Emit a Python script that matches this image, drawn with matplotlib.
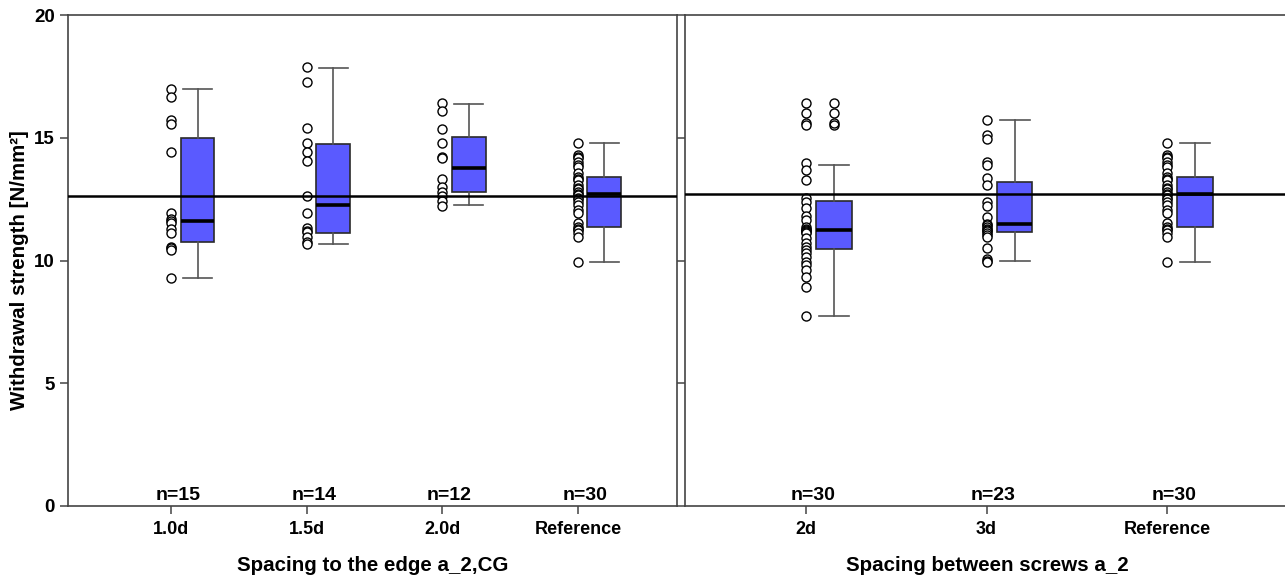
import matplotlib
matplotlib.use("Agg")
import matplotlib.pyplot as plt
import matplotlib.transforms as mtransforms
import numpy as np

plt.rcParams['font.family'] = ['Liberation Sans', 'DejaVu Sans']
plt.rcParams['font.weight'] = 'bold'

# --- edge spacing groups ---
edge_labels = ["1.0d", "1.5d", "2.0d", "Reference"]
edge_n = [15, 14, 12, 30]
edge_points = [
    [16.99, 16.67, 15.72, 15.55, 14.41, 11.95, 11.69, 11.60, 11.51, 11.30,
     11.11, 10.56, 10.50, 10.43, 9.30],
    [17.90, 17.26, 15.38, 14.77, 14.43, 14.07, 12.63, 11.92, 11.34, 11.20,
     11.17, 10.97, 10.75, 10.66],
    [16.43, 16.10, 15.34, 14.80, 14.20, 14.18, 13.31, 13.01, 12.80, 12.63,
     12.44, 12.22],
]
ref_points = [14.80, 14.30, 14.20, 14.16, 14.03, 13.90, 13.82, 13.55, 13.41,
              13.30, 13.28, 13.08, 12.94, 12.90, 12.80, 12.70, 12.67, 12.53,
              12.50, 12.40, 12.26, 12.06, 11.92, 11.51, 11.38, 11.30, 11.24,
              11.11, 10.94, 9.95]
edge_points.append(ref_points)
edge_q1 = [10.77, 11.13, 12.79, 11.38]
edge_med = [11.62, 12.25, 13.75, 12.71]
edge_q3 = [15.00, 14.75, 15.04, 13.41]
edge_lo = [9.30, 10.66, 12.26, 9.95]
edge_hi = [16.99, 17.85, 16.37, 14.80]
edge_fliers = [[], [], [], []]
edge_refline = 12.64

# --- screw spacing groups ---
screw_labels = ["2d", "3d", "Reference"]
screw_n = [30, 23, 30]
screw_points = [
    [16.43, 16.02, 15.59, 15.52, 13.96, 13.69, 13.28, 12.53, 12.40, 12.13,
     11.80, 11.65, 11.38, 11.30, 11.24, 11.20, 11.15, 11.11, 10.90, 10.70,
     10.55, 10.43, 10.30, 10.16, 9.95, 9.80, 9.61, 9.34, 8.93, 7.74],
    [15.72, 15.11, 14.94, 14.03, 13.89, 13.35, 13.08, 12.40, 12.22, 11.78,
     11.49, 11.45, 11.38, 11.30, 11.24, 11.20, 11.11, 11.05, 10.97, 10.50,
     10.05, 10.00, 9.95],
    ref_points,
]
screw_q1 = [10.46, 11.15, 11.38]
screw_med = [11.24, 11.49, 12.71]
screw_q3 = [12.44, 13.21, 13.41]
screw_lo = [7.74, 9.98, 9.95]
screw_hi = [13.89, 15.72, 14.80]
screw_fliers = [[16.43, 16.02, 15.59, 15.52], [], []]
screw_refline = 12.70

box_color = '#5a5aff'
edge_col = '#2a2a2a'

fig = plt.figure(figsize=(12.85, 5.76), dpi=100)
ax1 = fig.add_axes([68 / 1285, 1 - 506 / 576, 609 / 1285, 491 / 576])
ax2 = fig.add_axes([685 / 1285, 1 - 506 / 576, 604 / 1285, 491 / 576])


def draw_panel(ax, labels, counts, points, q1, med, q3, lo, hi, fliers,
               refline, xlim, offset, width):
    pos = np.arange(1, len(labels) + 1)
    stats = []
    for i in range(len(labels)):
        stats.append(dict(q1=q1[i], med=med[i], q3=q3[i], whislo=lo[i],
                          whishi=hi[i], fliers=fliers[i]))
    ax.bxp(stats, positions=pos + offset, widths=width, patch_artist=True,
           showfliers=True,
           boxprops=dict(facecolor=box_color, edgecolor=edge_col, linewidth=1.2),
           medianprops=dict(color='black', linewidth=2.6),
           whiskerprops=dict(color='#555555', linewidth=1.2),
           capprops=dict(color='#555555', linewidth=1.2),
           capwidths=width * 0.85,
           flierprops=dict(marker='o', markerfacecolor='none',
                           markeredgecolor='black', markersize=6.5,
                           markeredgewidth=1.0, linestyle='none'),
           zorder=3)
    for p, vals in zip(pos, points):
        ax.plot([p] * len(vals), vals, linestyle='none', marker='o',
                markerfacecolor='white', markeredgecolor='black',
                markersize=6.5, markeredgewidth=1.0, zorder=4)
    ax.axhline(refline, color='black', linewidth=1.8, zorder=5)
    shifted = mtransforms.offset_copy(ax.transData, fig=ax.figure, x=5,
                                      y=0, units='points')
    for p, n in zip(pos, counts):
        ax.text(p, 0.1, "n=%d" % n, ha='center', va='bottom',
                fontsize=14, fontweight='bold', transform=shifted)
    ax.set_xlim(*xlim)
    ax.set_ylim(0, 20)
    ax.set_xticks(pos)
    ax.set_xticklabels(labels, fontsize=13, fontweight='bold')
    ax.set_yticks([0, 5, 10, 15, 20])
    ax.tick_params(axis='both', direction='out', length=6, width=1.1,
                   color='#444444')
    ax.tick_params(axis='x', pad=5)
    for s in ax.spines.values():
        s.set_color('#444444')
        s.set_linewidth(1.2)


draw_panel(ax1, edge_labels, edge_n, edge_points, edge_q1, edge_med, edge_q3,
           edge_lo, edge_hi, edge_fliers, edge_refline,
           (0.24, 4.73), 0.195, 0.25)
draw_panel(ax2, screw_labels, screw_n, screw_points, screw_q1, screw_med,
           screw_q3, screw_lo, screw_hi, screw_fliers, screw_refline,
           (0.33, 3.675), 0.155, 0.195)

ax1.set_yticklabels(['0', '5', '10', '15', '20'], fontsize=13.5,
                    fontweight='bold')
ax2.set_yticklabels([])
ax1.set_ylabel("Withdrawal strength [N/mm²]", fontsize=14.8,
               fontweight='bold')
ax1.yaxis.set_label_coords(-0.064, 0.48)
ax1.set_xlabel("Spacing to the edge a_2,CG", fontsize=14.8,
               fontweight='bold', labelpad=13)
ax2.set_xlabel("Spacing between screws a_2", fontsize=14.8,
               fontweight='bold', labelpad=13)

fig.savefig("out.png", dpi=100)
